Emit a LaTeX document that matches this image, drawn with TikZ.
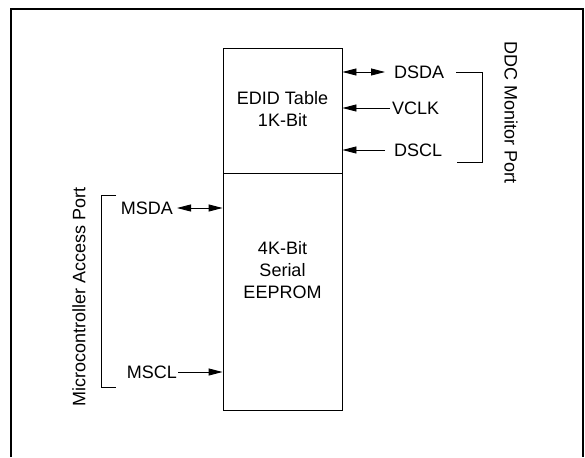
\documentclass[tikz,border=0pt]{standalone}
\usepackage{fontspec}
\setmainfont{Liberation Sans}
\usetikzlibrary{arrows.meta}
\tikzset{
  blk/.style={draw, line width=0.9pt, inner sep=0pt, align=center},
  sig/.style={line width=0.9pt, -{Triangle[length=14pt,width=7pt]}},
  bisig/.style={line width=0.9pt, {Triangle[length=14pt,width=7pt]}-{Triangle[length=14pt,width=7pt]}},
  pin/.style={inner sep=0pt},
  brk/.style={line width=0.9pt}
}
\begin{document}
\begin{tikzpicture}[x=1pt,y=-1pt,font=\fontsize{18}{22}\selectfont]
	\useasboundingbox (0,0) rectangle (585,457);
	\draw[line width=1.8pt] (11,457) -- (11,9) -- (583,9) -- (583,457);
	% memory blocks
	\node[blk, minimum width=119pt, minimum height=125pt] (edid) at (282.5,110.5) {};
	\node[blk, minimum width=119pt, minimum height=237pt] (eeprom) at (282.5,291.5) {};
	\node [align=center] (edidtxt) at (282.5,109) {EDID Table\\1K-Bit};
	\node [align=center] (eepromtxt) at (282.5,270) {4K-Bit\\Serial\\EEPROM};
	% monitor side
	\node [pin, anchor=west] (dsda) at (394,72) {DSDA};
	\node [pin, anchor=west] (vclk) at (392,108) {VCLK};
	\node [pin, anchor=west] (dscl) at (394,150) {DSCL};
	\draw[bisig] ([xshift=-9pt]dsda.west) -- (edid.east |- dsda.west);
	\draw[sig] ([xshift=-2pt]vclk.west) -- (edid.east |- vclk.west);
	\draw[sig] ([xshift=-9pt]dscl.west) -- (edid.east |- dscl.west);
	\draw[brk] ([xshift=12pt]dsda.east) -- ++(26,0) coordinate (ddctop) -- (ddctop |- 0,162) coordinate (ddcbot) -- ++(-25,0);
	\node [rotate=-90] (ddc) at (511,113) {DDC Monitor Port};
	% microcontroller side
	\node [pin, anchor=east] (msda) at (173,208) {MSDA};
	\node [pin, anchor=east] (mscl) at (177,372) {MSCL};
	\draw[bisig] ([xshift=4pt]msda.east) -- (eeprom.west |- msda.east);
	\draw[sig] ([xshift=1pt]mscl.east) -- (eeprom.west |- mscl.east);
	\draw[brk] (116,195) -- (101,195) -- (101,387) -- (116,387);
	\node [rotate=90] (mcu) at (79,297) {Microcontroller Access Port};
\end{tikzpicture}
\end{document}
